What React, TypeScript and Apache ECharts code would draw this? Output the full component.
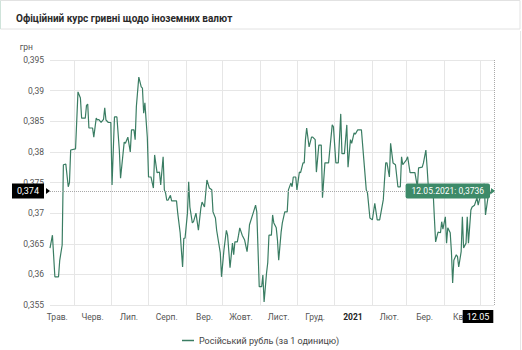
import React, { useEffect, useRef } from 'react';
import * as echarts from 'echarts';

const TITLE = 'Офіційний курс гривні щодо іноземних валют';
const SERIES_NAME = 'Російський рубль (за 1 одиницю)';
const Y_NAME = 'грн';

const dates = [
  '2020-05-12','2020-05-14','2020-05-16','2020-05-19','2020-05-20','2020-05-22','2020-05-23','2020-05-25','2020-05-27','2020-05-28','2020-05-29',
  '2020-06-02','2020-06-04','2020-06-06','2020-06-07','2020-06-10','2020-06-11','2020-06-12','2020-06-13','2020-06-16','2020-06-17','2020-06-19',
  '2020-06-20','2020-06-21','2020-06-23','2020-06-25','2020-06-26','2020-06-27','2020-06-29',
  '2020-07-01','2020-07-02','2020-07-04','2020-07-06','2020-07-08','2020-07-09','2020-07-12','2020-07-13','2020-07-15','2020-07-17','2020-07-18',
  '2020-07-20','2020-07-21','2020-07-22','2020-07-24','2020-07-26','2020-07-27','2020-07-28','2020-07-29','2020-07-31',
  '2020-08-01','2020-08-03','2020-08-05','2020-08-06','2020-08-08','2020-08-10','2020-08-11','2020-08-13','2020-08-14','2020-08-15','2020-08-16',
  '2020-08-17','2020-08-19','2020-08-20','2020-08-22','2020-08-24','2020-08-25','2020-08-27','2020-08-29','2020-08-30','2020-08-31',
  '2020-09-02','2020-09-03','2020-09-04','2020-09-06','2020-09-07','2020-09-09','2020-09-11','2020-09-13','2020-09-14','2020-09-16','2020-09-18',
  '2020-09-20','2020-09-22','2020-09-23','2020-09-25','2020-09-26','2020-09-29','2020-09-30',
  '2020-10-02','2020-10-04','2020-10-05','2020-10-07','2020-10-09','2020-10-10','2020-10-11','2020-10-13','2020-10-14','2020-10-15','2020-10-17',
  '2020-10-19','2020-10-21','2020-10-22','2020-10-23','2020-10-26','2020-10-28','2020-10-29','2020-10-31',
  '2020-11-02','2020-11-03','2020-11-04','2020-11-06','2020-11-07','2020-11-08','2020-11-10','2020-11-11','2020-11-12','2020-11-14','2020-11-15',
  '2020-11-16','2020-11-18','2020-11-19','2020-11-21','2020-11-23','2020-11-24','2020-11-26','2020-11-27','2020-11-28','2020-11-30',
  '2020-12-01','2020-12-03','2020-12-04','2020-12-06','2020-12-07','2020-12-08','2020-12-09','2020-12-11','2020-12-13','2020-12-14','2020-12-16',
  '2020-12-17','2020-12-19','2020-12-21','2020-12-22','2020-12-24','2020-12-26','2020-12-27','2020-12-30','2020-12-31',
  '2021-01-02','2021-01-04','2021-01-06','2021-01-07','2021-01-09','2021-01-11','2021-01-12','2021-01-14','2021-01-15','2021-01-17','2021-01-18',
  '2021-01-20','2021-01-23','2021-01-25','2021-01-27','2021-01-28','2021-01-30',
  '2021-02-01','2021-02-03','2021-02-05','2021-02-07','2021-02-10','2021-02-11','2021-02-12','2021-02-13','2021-02-15','2021-02-16','2021-02-18',
  '2021-02-20','2021-02-22','2021-02-24','2021-02-25','2021-02-26',
  '2021-03-01','2021-03-02','2021-03-04','2021-03-06','2021-03-08','2021-03-10','2021-03-11','2021-03-14','2021-03-15','2021-03-17','2021-03-18',
  '2021-03-19','2021-03-23','2021-03-24','2021-03-25','2021-03-27','2021-03-29','2021-03-30','2021-03-31',
  '2021-04-02','2021-04-03','2021-04-04','2021-04-06','2021-04-07','2021-04-08','2021-04-09','2021-04-11','2021-04-12','2021-04-13','2021-04-15',
  '2021-04-16','2021-04-17','2021-04-19','2021-04-20','2021-04-21','2021-04-23','2021-04-24','2021-04-26','2021-04-28','2021-04-29','2021-04-30',
  '2021-05-02','2021-05-04','2021-05-05','2021-05-07','2021-05-09','2021-05-10','2021-05-12',
];

const rubValues = [
  0.3643,0.3664,0.3596,0.3596,0.3623,0.3648,0.3779,0.378,0.3743,0.375,0.3803,
  0.3805,0.3898,0.3888,0.3855,0.3855,0.3876,0.3878,0.3839,0.3839,0.3824,0.3855,
  0.3852,0.3853,0.3848,0.3853,0.3872,0.3852,0.3848,
  0.3848,0.3746,0.3857,0.3857,0.3803,0.3757,0.3816,0.3814,0.3824,0.380,0.3836,
  0.3836,0.382,0.3874,0.3922,0.3906,0.3904,0.3863,0.388,0.3824,
  0.3759,0.3759,0.3741,0.3795,0.3766,0.3767,0.3746,0.3792,0.3738,0.3733,0.3721,
  0.3721,0.3729,0.372,0.372,0.372,0.370,0.3668,0.3612,0.3659,0.3659,
  0.370,0.3751,0.371,0.3684,0.3686,0.370,0.3672,0.3708,0.3718,0.371,0.3754,
  0.3741,0.3738,0.3702,0.3692,0.3672,0.3635,0.3596,
  0.364,0.3672,0.3664,0.3611,0.3651,0.3632,0.3653,0.3653,0.3664,0.3676,0.3664,
  0.3656,0.3637,0.3656,0.3681,0.370,0.3713,0.3702,0.358,
  0.358,0.3599,0.3555,0.3602,0.3619,0.3664,0.3664,0.3697,0.3684,0.3676,0.3656,
  0.3623,0.3669,0.3684,0.3702,0.3702,0.3738,0.3749,0.3743,0.3759,0.3759,
  0.3738,0.3767,0.3766,0.3782,0.3782,0.382,0.3839,0.3808,0.3824,0.3824,0.382,
  0.3767,0.3811,0.3811,0.3725,0.3782,0.3782,0.3782,0.3844,0.3841,
  0.3782,0.3782,0.3862,0.3797,0.3797,0.3844,0.3775,0.382,0.3814,0.3831,0.3829,
  0.3836,0.3836,0.3787,0.3738,0.3733,0.3692,
  0.3689,0.3716,0.3689,0.3689,0.3722,0.3754,0.3782,0.3782,0.3759,0.3814,0.3782,
  0.3779,0.3743,0.3743,0.3792,0.3779,
  0.3787,0.3792,0.3766,0.3766,0.3766,0.3743,0.3774,0.3775,0.3782,0.3803,0.3775,
  0.3743,0.3733,0.3692,0.3653,0.3669,0.3668,0.3686,0.3674,
  0.3694,0.3651,0.3676,0.3668,0.3637,0.3586,0.3623,0.3632,0.3629,0.3612,0.3637,
  0.3694,0.3643,0.3651,0.3694,0.3651,0.3705,0.371,0.3713,0.3725,0.3713,0.3722,
  0.3733,0.3748,0.3697,0.3725,0.3733,0.3738,0.3736,
];

const gridMonthStarts = [
  '2020-06-01','2020-07-01','2020-08-01','2020-09-01','2020-10-01','2020-11-01',
  '2020-12-01','2021-01-01','2021-02-01','2021-03-01','2021-04-01','2021-05-01',
];
const monthLabelDates = [
  '2020-05-18','2020-06-16','2020-07-16','2020-08-16','2020-09-16','2020-10-16',
  '2020-11-16','2020-12-16','2021-01-16','2021-02-15','2021-03-16','2021-04-16',
];
const monthNames = ['Січ.','Лют.','Бер.','Квіт.','Трав.','Черв.','Лип.','Серп.','Вер.','Жовт.','Лист.','Груд.'];

const Y_MIN = 0.355;
const Y_MAX = 0.395;
const Y_STEP = 0.005;

const toTs = (s: string) => {
  const [y, m, d] = s.split('-').map(Number);
  return new Date(y, m - 1, d).getTime();
};
const pad = (n: number) => (n < 10 ? '0' + n : '' + n);
const fmtNum = (v: number, digits?: number) =>
  (digits === undefined ? String(Math.round(v * 1000) / 1000) : v.toFixed(digits)).replace('.', ',');

const FONT = 'Roboto';
const LINE_COLOR = '#3a7d63';
const TIP_COLOR = '#3d8a69';

export default function App() {
  const ref = useRef<HTMLDivElement>(null);

  useEffect(() => {
    if (!ref.current) return;
    const chart = echarts.init(ref.current, undefined, { renderer: 'svg' });
    const n = dates.length;
    const firstTs = toTs(dates[0]);
    const lastTs = toTs(dates[n - 1]);
    const lastVal = rubValues[n - 1];
    const lastDate = new Date(lastTs);
    const dd = pad(lastDate.getDate());
    const mm = pad(lastDate.getMonth() + 1);
    const tipText = `${dd}.${mm}.${lastDate.getFullYear()}: ${fmtNum(lastVal, 4)}`;
    const yPtrText = fmtNum(lastVal, 3);
    const xPtrText = `${dd}.${mm}`;

    chart.setOption({
      animation: false,
      textStyle: { fontFamily: FONT },
      title: {
        text: TITLE,
        left: 11,
        top: 8,
        textStyle: { fontSize: 10, fontWeight: 'bold', color: '#2a2a2a', fontFamily: FONT },
      },
      graphic: [
        {
          type: 'rect',
          z: -10,
          shape: { x: 0.5, y: 0.5, width: 519.5, height: 28.5 },
          style: { fill: '#fff', stroke: '#e2e2e2', lineWidth: 1 },
        },
        {
          type: 'line',
          z: -9,
          shape: { x1: 0.5, y1: 0.5, x2: 0.5, y2: 29 },
          style: { stroke: '#cfe3da', lineWidth: 1 },
        },
        {
          type: 'line',
          z: -9,
          shape: { x1: 520.5, y1: 31, x2: 520.5, y2: 350 },
          style: { stroke: '#e6e6e6', lineWidth: 1 },
        },
      ],
      grid: { left: 50, right: 28, top: 60, bottom: 45 },
      legend: {
        left: 177,
        top: 331,
        icon: 'rect',
        itemWidth: 12,
        itemHeight: 1.5,
        itemGap: 4,
        data: [SERIES_NAME],
        textStyle: { fontSize: 9, color: '#444', fontFamily: FONT },
      },
      xAxis: {
        type: 'value',
        min: firstTs,
        max: lastTs,
        axisLine: { show: false },
        axisTick: { show: false, customValues: gridMonthStarts.map(toTs) },
        splitLine: { show: true, lineStyle: { color: '#e6e6e6', width: 1 } },
        axisLabel: {
          customValues: monthLabelDates.map(toTs),
          margin: 7,
          fontSize: 8.5,
          color: '#555',
          fontFamily: FONT,
          formatter: (v: number) => {
            const d = new Date(v);
            if (d.getMonth() === 0) return `{yr|${d.getFullYear()}}`;
            return monthNames[d.getMonth()];
          },
          rich: { yr: { fontWeight: 'bold', color: '#222', fontSize: 8.5, fontFamily: FONT } },
        },
      },
      yAxis: {
        type: 'value',
        min: Y_MIN,
        max: Y_MAX,
        interval: Y_STEP,
        name: Y_NAME,
        nameGap: 9,
        nameTextStyle: { align: 'right', padding: [0, 17, 0, 0], fontSize: 8.5, color: '#555', fontFamily: FONT },
        axisLine: { show: false },
        axisTick: { show: false },
        splitLine: { lineStyle: { color: '#e6e6e6', width: 1 } },
        axisLabel: {
          margin: 6,
          fontSize: 8.5,
          color: '#555',
          fontFamily: FONT,
          formatter: (v: number) => fmtNum(v),
        },
      },
      series: [
        {
          type: 'line',
          name: SERIES_NAME,
          data: dates.map((d, i) => [toTs(d), rubValues[i]]),
          symbol: 'none',
          lineStyle: { width: 1.2, color: LINE_COLOR },
          itemStyle: { color: LINE_COLOR },
          markLine: {
            silent: true,
            precision: 6,
            symbol: ['none', 'none'],
            label: { show: false },
            lineStyle: { type: 'dotted', color: '#a8a8a8', width: 1 },
            data: [{ yAxis: lastVal }, { xAxis: lastTs }],
          },
          markPoint: {
            silent: true,
            symbol: 'circle',
            symbolSize: 0,
            data: [
              {
                coord: [lastTs, lastVal],
                symbol: 'triangle',
                symbolSize: [6, 4],
                symbolRotate: -90,
                symbolOffset: [-1, 0],
                itemStyle: { color: TIP_COLOR },
                label: {
                  show: true,
                  position: 'left',
                  distance: 1,
                  formatter: tipText,
                  backgroundColor: TIP_COLOR,
                  color: '#fff',
                  padding: [3, 6],
                  borderRadius: 2,
                  fontSize: 8.5,
                  fontFamily: FONT,
                },
              },
              {
                coord: [firstTs, lastVal],
                symbol: 'triangle',
                symbolSize: [6, 4],
                symbolRotate: -90,
                symbolOffset: [-2, 0],
                itemStyle: { color: '#000' },
                label: {
                  show: true,
                  position: 'left',
                  distance: 2,
                  formatter: yPtrText,
                  backgroundColor: '#000',
                  color: '#fff',
                  padding: [3, 5],
                  fontSize: 9,
                  fontFamily: FONT,
                },
              },
              {
                coord: [lastTs, Y_MIN],
                label: {
                  show: true,
                  position: 'bottom',
                  distance: 5,
                  offset: [-16, 0],
                  formatter: xPtrText,
                  backgroundColor: '#000',
                  color: '#fff',
                  padding: [2, 4],
                  fontSize: 9,
                  fontFamily: FONT,
                },
              },
            ],
          },
        },
      ],
    });

    return () => chart.dispose();
  }, []);

  return (
    <div
      ref={ref}
      style={{ width: 522, height: 350, position: 'fixed', left: 0, top: 0, background: '#fff' }}
    />
  );
}
